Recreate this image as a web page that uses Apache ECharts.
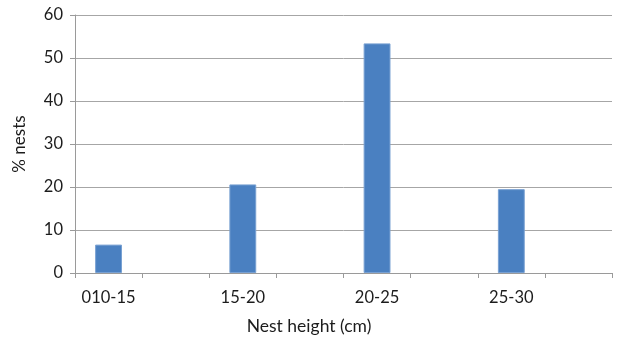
<!DOCTYPE html>
<html>
<head>
<meta charset="utf-8">
<script src="https://cdn.jsdelivr.net/npm/echarts@6/dist/echarts.min.js"></script>
<style>
  html, body { margin: 0; padding: 0; background: #fff; }
  #chart { width: 618px; height: 340px; }
</style>
</head>
<body>
<div id="chart"></div>
<script>
// Nest height classes; each class has a trailing empty slot (Excel-style layout)
const categories = ['010-15', '', '15-20', '', '20-25', '', '25-30', ''];
const nestPercent = [6.6, null, 20.6, null, 53.4, null, 19.5, null];
const yTicks = { min: 0, max: 60, interval: 10 };

const fontFamily = 'Lato, "Open Sans", sans-serif';
const chart = echarts.init(document.getElementById('chart'), null, { renderer: 'canvas' });

chart.setOption({
  animation: false,
  backgroundColor: '#ffffff',
  title: {
    text: 'Nest height (cm)',
    left: 'center',
    top: 312,
    textStyle: { fontFamily, fontSize: 17.5, fontWeight: 'normal', color: '#1c1c1c' }
  },
  grid: { left: 75, right: 6, top: 15, bottom: 67, containLabel: false },
  xAxis: {
    type: 'category',
    data: categories,
    boundaryGap: true,
    axisLine: { lineStyle: { color: '#9a9a9a', width: 1 } },
    axisTick: { show: true, alignWithLabel: false, interval: 0, length: 5, lineStyle: { color: '#9a9a9a' } },
    axisLabel: { interval: 0, margin: 16, fontFamily, fontSize: 16.5, color: '#1c1c1c' },
    splitLine: { show: false }
  },
  yAxis: {
    type: 'value',
    min: yTicks.min,
    max: yTicks.max,
    interval: yTicks.interval,
    name: '% nests',
    nameLocation: 'middle',
    nameGap: 47,
    nameTextStyle: { fontFamily, fontSize: 17, color: '#1c1c1c' },
    axisLine: { show: true, lineStyle: { color: '#9a9a9a', width: 1 } },
    axisTick: { show: true, length: 5, lineStyle: { color: '#9a9a9a' } },
    axisLabel: { margin: 12, fontFamily, fontSize: 16.5, color: '#1c1c1c' },
    splitLine: { show: true, lineStyle: { color: '#a6a6a6', width: 1 } }
  },
  series: [{
    type: 'bar',
    data: nestPercent,
    barWidth: '40%',
    itemStyle: { color: '#4a80c1', borderColor: '#78a0d2', borderWidth: 1 }
  }]
});
</script>
</body>
</html>
